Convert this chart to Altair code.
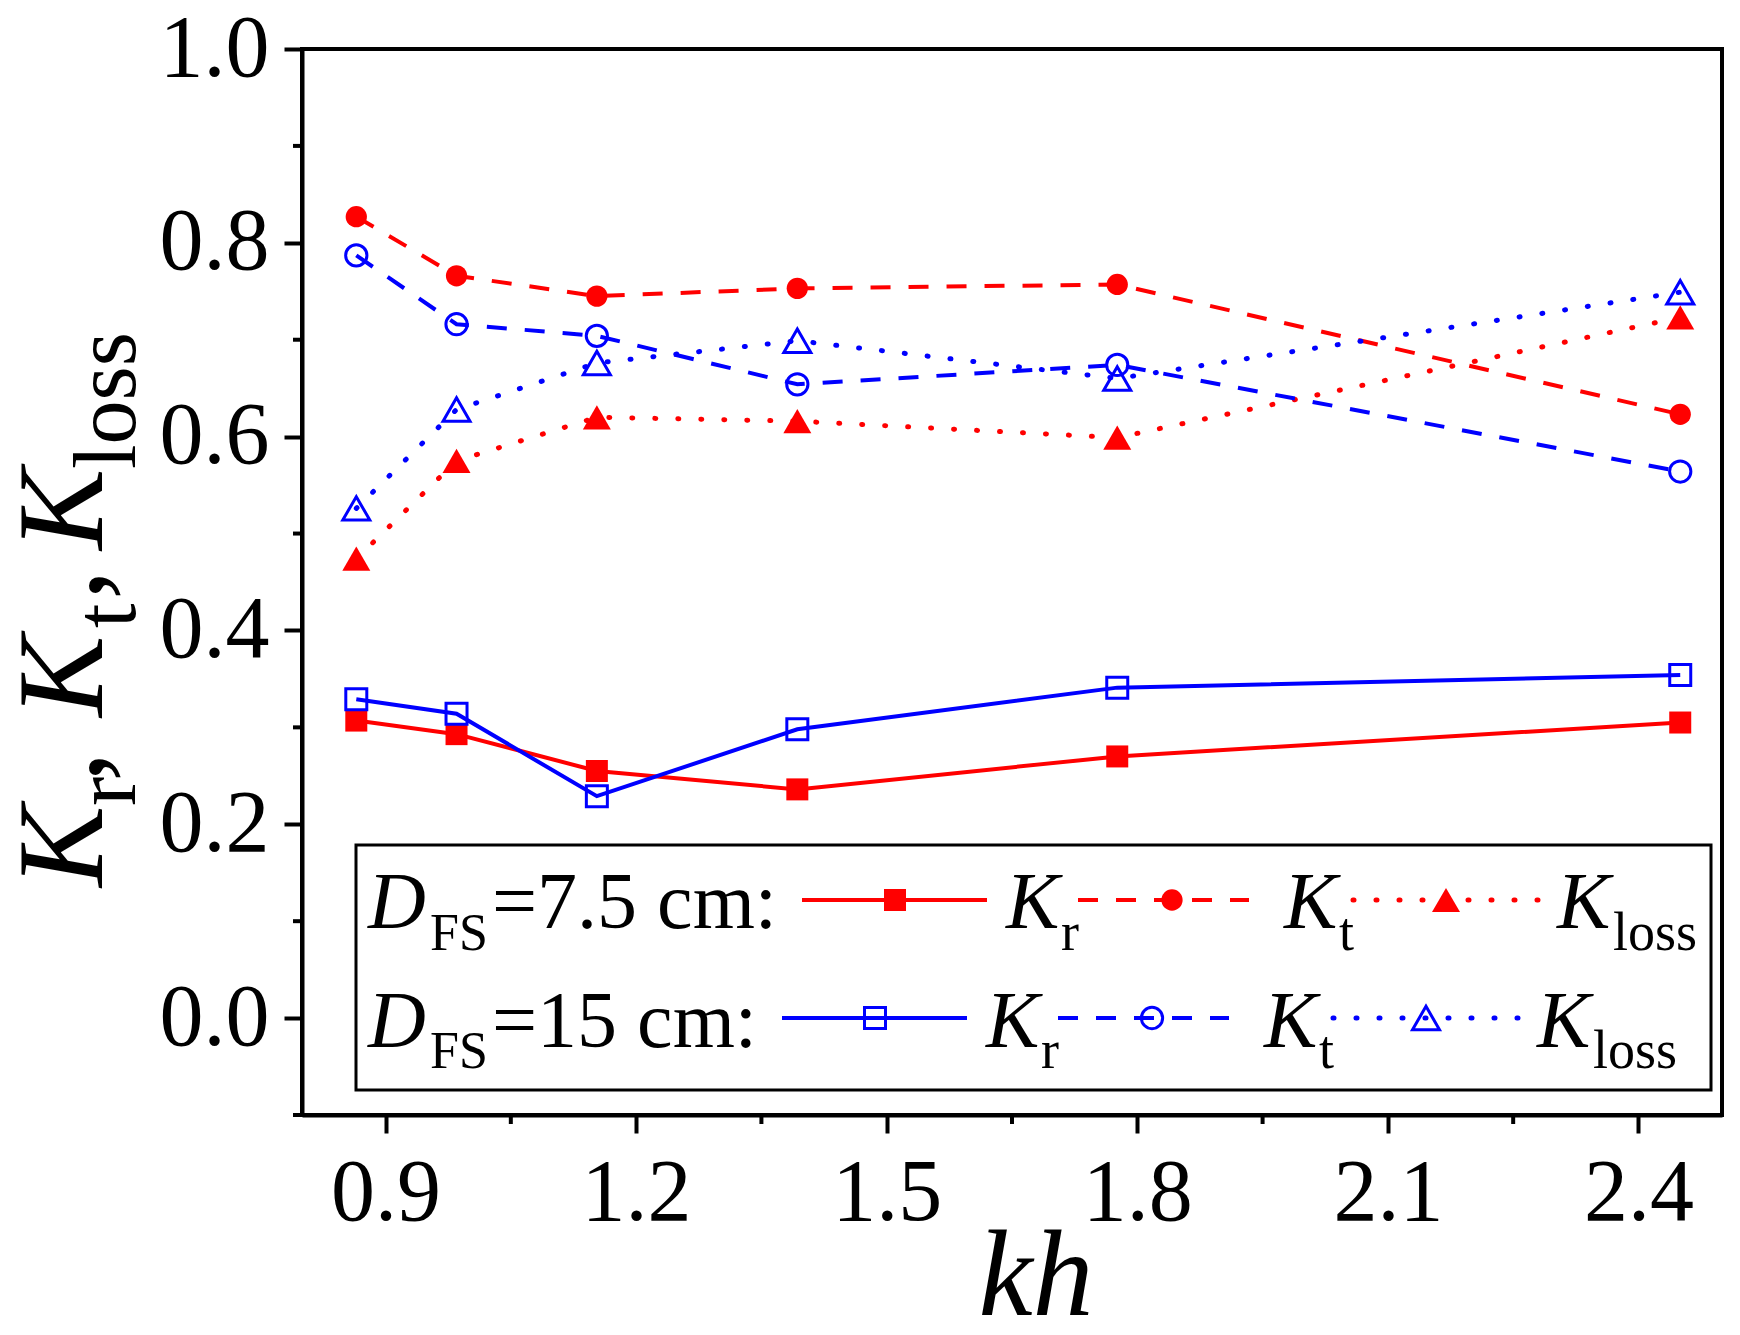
import altair as alt
import pandas as pd

# ---- data ----
kh = [0.865, 0.985, 1.153, 1.393, 1.776, 2.450]
kr_75 = [0.307, 0.293, 0.255, 0.236, 0.270, 0.305]
kt_75 = [0.827, 0.766, 0.745, 0.753, 0.757, 0.623]
kl_75 = [0.474, 0.575, 0.620, 0.616, 0.599, 0.723]
kr_15 = [0.329, 0.314, 0.229, 0.298, 0.341, 0.354]
kt_15 = [0.787, 0.716, 0.704, 0.654, 0.674, 0.564]
kl_15 = [0.526, 0.628, 0.676, 0.699, 0.660, 0.749]

x_ticks = [0.9, 1.2, 1.5, 1.8, 2.1, 2.4]
x_minor = [1.05, 1.35, 1.65, 1.95, 2.25]
y_ticks = [0.0, 0.2, 0.4, 0.6, 0.8, 1.0]
y_minor = [-0.1, 0.1, 0.3, 0.5, 0.7, 0.9]

RED, BLUE = "#FF0000", "#0000FF"
FONT = "Liberation Serif"
W, H = 1420, 1066

xs = alt.Scale(domain=[0.8, 2.5], nice=False, zero=False)
ys = alt.Scale(domain=[-0.1, 1.0], nice=False, zero=False)

common_axis = dict(title=None, grid=False, format=".1f", tickSize=18, tickWidth=4,
                   tickColor="black", domainWidth=4, domainColor="black",
                   labelFont=FONT, labelFontSize=88, labelColor="black",
                   labelFlush=False, labelOverlap=False)
x_axis = alt.Axis(values=x_ticks, labelPadding=16, **common_axis)
y_axis = alt.Axis(values=y_ticks, labelPadding=15, **common_axis)

STYLE = {
    "Kr": dict(strokeWidth=4),
    "Kt": dict(strokeWidth=4, strokeDash=[20, 18]),
    "Kl": dict(strokeWidth=5, strokeDash=[1, 22], strokeCap="round"),
}
SHAPE = {"Kr": "square", "Kt": "circle", "Kl": "triangle-up"}
SIZE_FILLED = {"Kr": 484, "Kt": 452, "Kl": 784}
SIZE_OPEN = {"Kr": 441, "Kt": 452, "Kl": 729}

series = [
    ("Kr", kr_75, RED, True), ("Kt", kt_75, RED, True), ("Kl", kl_75, RED, True),
    ("Kr", kr_15, BLUE, False), ("Kt", kt_15, BLUE, False), ("Kl", kl_15, BLUE, False),
]

layers = []
for kind, vals, color, filled in series:
    df = pd.DataFrame({"kh": kh, "K": vals})
    base = alt.Chart(df).encode(
        x=alt.X("kh:Q", scale=xs, axis=x_axis),
        y=alt.Y("K:Q", scale=ys, axis=y_axis),
    )
    layers.append(base.mark_line(color=color, **STYLE[kind]))
for kind, vals, color, filled in series:
    df = pd.DataFrame({"kh": kh, "K": vals})
    base = alt.Chart(df).encode(
        x=alt.X("kh:Q", scale=xs, axis=x_axis),
        y=alt.Y("K:Q", scale=ys, axis=y_axis),
    )
    size = SIZE_FILLED[kind] if filled else SIZE_OPEN[kind]
    layers.append(base.mark_point(shape=SHAPE[kind], size=size, filled=filled,
                                  color=color, strokeWidth=3, opacity=1))

# minor ticks
layers.append(alt.Chart(pd.DataFrame({"v": x_minor})).mark_rule(color="black", strokeWidth=4).encode(
    x=alt.X("v:Q", scale=xs, axis=x_axis), y=alt.value(H), y2=alt.value(H + 9)))
layers.append(alt.Chart(pd.DataFrame({"v": y_minor})).mark_rule(color="black", strokeWidth=4).encode(
    y=alt.Y("v:Q", scale=ys, axis=y_axis), x=alt.value(0), x2=alt.value(-9)))

dummy = pd.DataFrame({"a": [0]})


def txt(s, px, py, size, italic=False, angle=0, align="left"):
    kw = dict(font=FONT, fontSize=size, align=align, baseline="alphabetic", color="black")
    if italic:
        kw["fontStyle"] = "italic"
    if angle:
        kw["angle"] = angle
    return alt.Chart(dummy).mark_text(text=s, **kw).encode(x=alt.value(px), y=alt.value(py))


def seg(x1, x2, y, color, kind):
    return alt.Chart(dummy).mark_rule(color=color, **STYLE[kind]).encode(
        x=alt.value(x1), x2=alt.value(x2), y=alt.value(y))


def mk(px, py, color, kind, filled):
    size = SIZE_FILLED[kind] if filled else SIZE_OPEN[kind]
    return alt.Chart(dummy).mark_point(shape=SHAPE[kind], size=size, filled=filled, color=color,
                                       strokeWidth=3, opacity=1).encode(x=alt.value(px), y=alt.value(py))


# legend box
layers.append(alt.Chart(dummy).mark_rect(fill="white", stroke="black", strokeWidth=3).encode(
    x=alt.value(54), x2=alt.value(1409), y=alt.value(796), y2=alt.value(1041)))

legend_rows = [
    # label, color, filled, line y, baseline, sub baseline, x shift
    ("=7.5 cm:", RED, True, 851, 879, 901, 0),
    ("=15 cm:", BLUE, False, 969, 998, 1019, -20),
]
for label, color, filled, ly, bl, sbl, dx in legend_rows:
    layers.append(txt("D", 66, bl, 80, italic=True))
    layers.append(txt("FS", 128, sbl, 52))
    layers.append(txt(label, 190, bl, 80))
    layers.append(seg(500 + dx, 685 + dx, ly, color, "Kr"))
    layers.append(mk(593 + dx, ly, color, "Kr", filled))
    layers.append(txt("K", 704 + dx, bl, 80, italic=True))
    layers.append(txt("r", 759 + dx, sbl, 54))
    layers.append(seg(776 + dx, 947 + dx, ly, color, "Kt"))
    layers.append(mk(870 + dx, ly, color, "Kt", filled))
    layers.append(txt("K", 982 + dx, bl, 80, italic=True))
    layers.append(txt("t", 1037 + dx, sbl, 54))
    layers.append(seg(1051 + dx, 1237 + dx, ly, color, "Kl"))
    layers.append(mk(1144 + dx, ly, color, "Kl", filled))
    layers.append(txt("K", 1255 + dx, bl, 80, italic=True))
    layers.append(txt("loss", 1311 + dx, sbl, 54))

# x axis title
layers.append(txt("kh", 734, 1266, 122, italic=True, align="center"))

# y axis title (rotated rich text)
KX, SX = -200, -167
for s, py, big, it in [("K", 838, True, True), ("r", 757, False, False), (",", 733, True, False),
                       ("K", 668, True, True), ("t", 579, False, False), (",", 551, True, False),
                       ("K", 501, True, True), ("loss", 420, False, False)]:
    layers.append(txt(s, KX if big else SX, py, 122 if big else 88, italic=it, angle=270))

chart = alt.layer(*layers).properties(
    width=W, height=H,
    autosize=alt.AutoSizeParams(type="none"),
    padding={"left": 294, "top": 41, "right": 10, "bottom": 212},
    background="white",
).configure_view(stroke="black", strokeWidth=4)

chart.save("out.html", embed_options={"renderer": "svg", "actions": False})
